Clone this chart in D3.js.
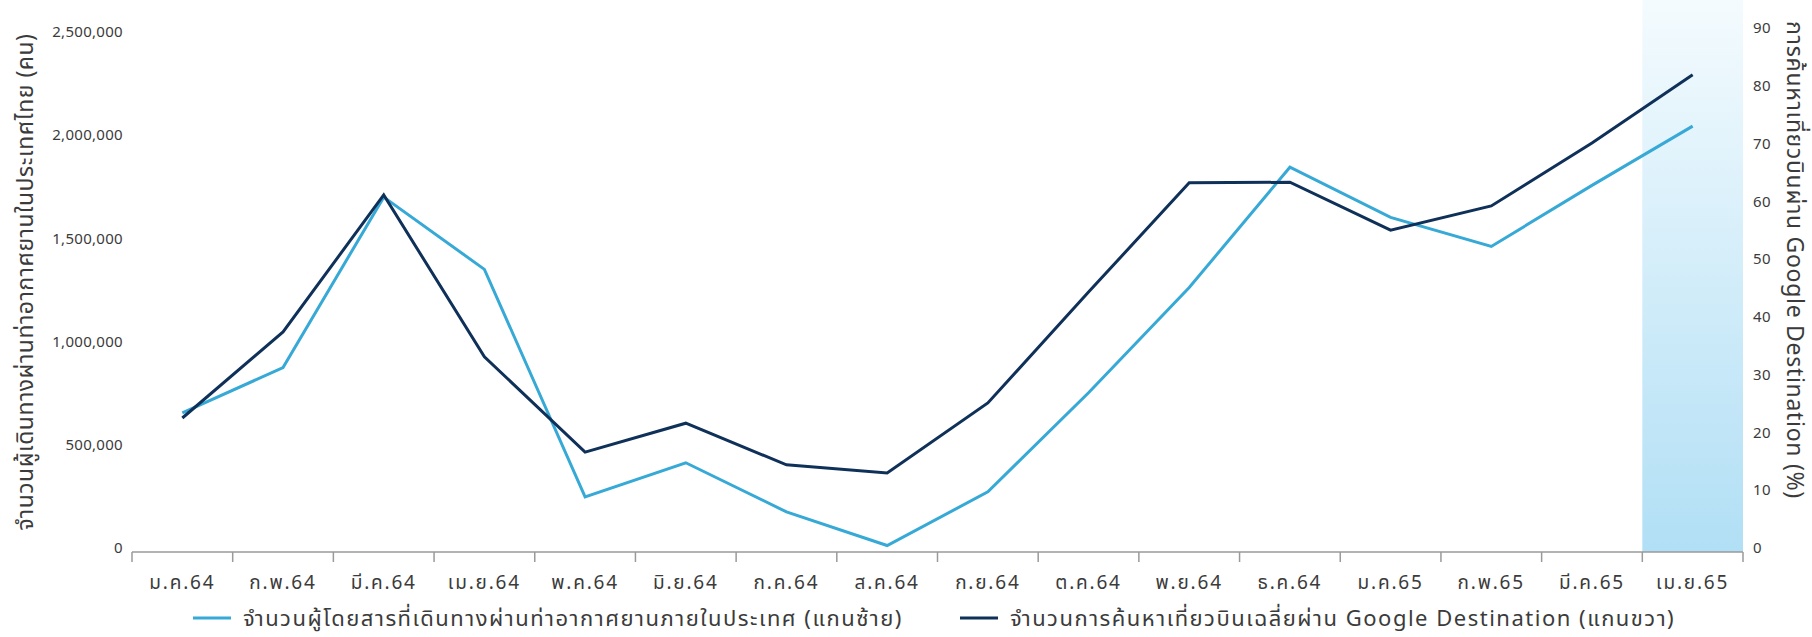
<!DOCTYPE html>
<html lang="th">
<head>
<meta charset="UTF-8">
<title>Passengers vs Google Destination</title>
<script src="https://cdn.jsdelivr.net/npm/d3@7"></script>
<style>
  body { margin: 0; background: #fff; }
  svg text { font-family: "Noto Sans", "Noto Sans Thai", "DejaVu Sans", sans-serif; fill: #3b3b3b; }
</style>
</head>
<body>
<div id="chart"></div>
<script>
// months on the x axis
var months = ["ม.ค.64", "ก.พ.64", "มี.ค.64", "เม.ย.64", "พ.ค.64", "มิ.ย.64", "ก.ค.64", "ส.ค.64",
              "ก.ย.64", "ต.ค.64", "พ.ย.64", "ธ.ค.64", "ม.ค.65", "ก.พ.65", "มี.ค.65", "เม.ย.65"];
// domestic airport passengers (left axis, people)
var passengers = [655000, 874000, 1700000, 1350000, 248000, 413000, 175000, 12000,
                  272000, 752000, 1262000, 1845000, 1602000, 1461000, 1757000, 2044000];
// average Google Destination flight searches (right axis, %)
var searches = [22.5, 37.4, 61.1, 33.1, 16.6, 21.6, 14.4, 13.0,
                25.1, 44.3, 63.2, 63.3, 55.0, 59.2, 70.1, 81.9];
var leftTicks = [0, 500000, 1000000, 1500000, 2000000, 2500000];
var rightTicks = [0, 10, 20, 30, 40, 50, 60, 70, 80, 90];
var highlightMonth = "เม.ย.65";

var W = 1812, H = 637;
var left = 132, right = 1743, axisY = 552;

var svg = d3.select("#chart").append("svg")
  .attr("width", W).attr("height", H);

var x = d3.scaleBand().domain(months).range([left, right]);
var yL = d3.scaleLinear().domain([0, 2500000]).range([548, 32]);
var yR = d3.scaleLinear().domain([0, 90]).range([548, 28]);

// highlighted last month
var grad = svg.append("defs").append("linearGradient")
  .attr("id", "hl").attr("x1", 0).attr("y1", 0).attr("x2", 0).attr("y2", 1);
grad.append("stop").attr("offset", "0%").attr("stop-color", "#f4fbfe");
grad.append("stop").attr("offset", "100%").attr("stop-color", "#b1dff5");
svg.append("rect")
  .attr("x", x(highlightMonth)).attr("y", 0)
  .attr("width", x.bandwidth()).attr("height", axisY)
  .attr("fill", "url(#hl)");

// x axis: baseline, boundary ticks, labels
svg.append("line")
  .attr("x1", left).attr("x2", right).attr("y1", axisY).attr("y2", axisY)
  .attr("stroke", "#9a9a9a").attr("stroke-width", 1.5);
var bounds = months.map(function(m) { return x(m); }).concat([right]);
svg.selectAll(".xtick").data(bounds).enter().append("line")
  .attr("x1", function(d) { return d; }).attr("x2", function(d) { return d; })
  .attr("y1", axisY).attr("y2", axisY + 10)
  .attr("stroke", "#9a9a9a").attr("stroke-width", 1.5);
svg.selectAll(".xlab").data(months).enter().append("text")
  .attr("x", function(d) { return x(d) + x.bandwidth() / 2; })
  .attr("y", 582).attr("dy", "0.35em")
  .attr("text-anchor", "middle").style("font-size", "19px").style("letter-spacing", "1.8px")
  .text(function(d) { return d; });

// left axis labels
svg.selectAll(".ylab").data(leftTicks).enter().append("text")
  .attr("x", 123).attr("y", function(d) { return yL(d); }).attr("dy", "0.35em")
  .attr("text-anchor", "end").style("font-size", "15px").style("letter-spacing", "0.3px")
  .text(function(d) { return d3.format(",")(d); });

// right axis labels
svg.selectAll(".rlab").data(rightTicks).enter().append("text")
  .attr("x", 1753).attr("y", function(d) { return yR(d); }).attr("dy", "0.35em")
  .style("font-size", "15px").style("letter-spacing", "0.5px")
  .text(function(d) { return d; });

// axis titles
svg.append("text")
  .attr("transform", "translate(25,282) rotate(-90)")
  .attr("dy", "0.35em").attr("text-anchor", "middle")
  .style("font-size", "23px").style("letter-spacing", "0.5px")
  .text("จำนวนผู้เดินทางผ่านท่าอากาศยานในประเทศไทย (คน)");
svg.append("text")
  .attr("transform", "translate(1795,260) rotate(90)")
  .attr("dy", "0.35em").attr("text-anchor", "middle")
  .style("font-size", "23px").style("letter-spacing", "0.7px")
  .text("การค้นหาเที่ยวบินผ่าน Google Destination (%)");

// lines
var cx = function(i) { return x(months[i]) + x.bandwidth() / 2; };
var lineL = d3.line().x(function(d, i) { return cx(i); }).y(function(d) { return yL(d); });
var lineR = d3.line().x(function(d, i) { return cx(i); }).y(function(d) { return yR(d); });

svg.append("path").datum(passengers)
  .attr("d", lineL).attr("fill", "none")
  .attr("stroke", "#37a9d6").attr("stroke-width", 3).attr("stroke-linejoin", "miter");
svg.append("path").datum(searches)
  .attr("d", lineR).attr("fill", "none")
  .attr("stroke", "#0f3159").attr("stroke-width", 3).attr("stroke-linejoin", "miter");

// legend
var legend = [
  { label: "จำนวนผู้โดยสารที่เดินทางผ่านท่าอากาศยานภายในประเทศ (แกนซ้าย)", color: "#37a9d6", x: 193 },
  { label: "จำนวนการค้นหาเที่ยวบินเฉลี่ยผ่าน Google Destination (แกนขวา)", color: "#0f3159", x: 960 }
];
var lg = svg.selectAll(".lg").data(legend).enter().append("g")
  .attr("transform", function(d) { return "translate(" + d.x + ",618)"; });
lg.append("line").attr("x1", 0).attr("x2", 38).attr("y1", 0).attr("y2", 0)
  .attr("stroke", function(d) { return d.color; }).attr("stroke-width", 3);
lg.append("text").attr("x", 50).attr("dy", "0.35em")
  .style("font-size", "22px").style("letter-spacing", "1.5px")
  .text(function(d) { return d.label; });
</script>
</body>
</html>
